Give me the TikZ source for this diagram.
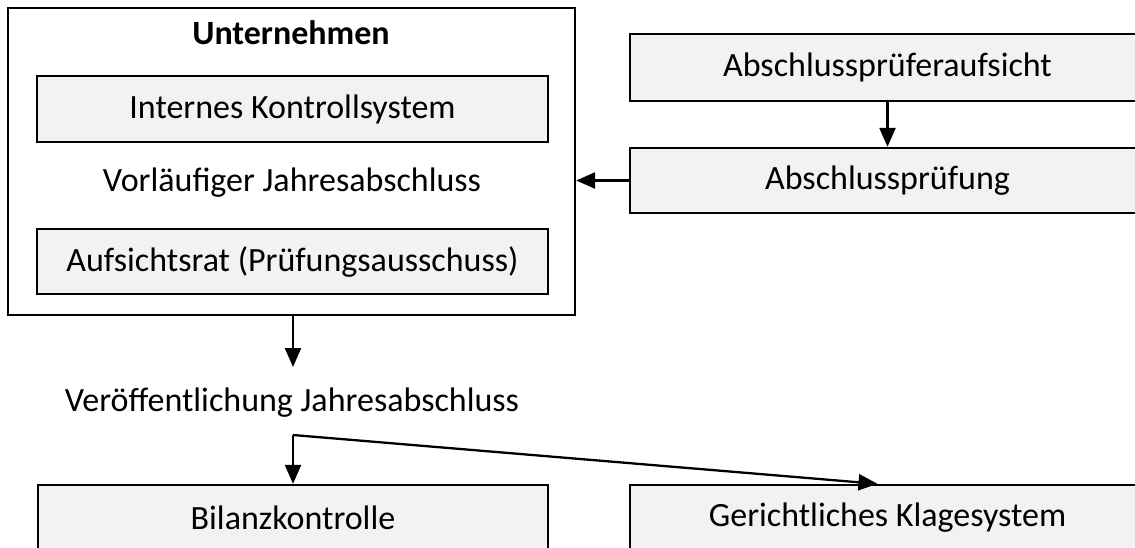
\documentclass[tikz,border=0pt]{standalone}
\usepackage{fontspec}
\setmainfont{Carlito}
\usetikzlibrary{arrows.meta}
\definecolor{boxgray}{HTML}{F2F2F2}

\begin{document}
\begin{tikzpicture}[
  x=1pt, y=-1pt,
  font=\fontsize{34}{40}\selectfont,
  frame/.style={draw,line width=2.3pt,minimum width=567pt,minimum height=307pt,inner sep=0pt},
  block/.style={draw,line width=2.3pt,fill=boxgray,minimum width=511pt,minimum height=66pt,inner sep=0pt},
  wideblock/.style={block,minimum width=515pt},
  plain/.style={inner sep=0pt},
  to/.style={-{Triangle[length=19pt,width=16pt]},line width=2.3pt}]

  \useasboundingbox (0,0) rectangle (1135,547);

  % Left column: the company with its inner blocks
  \node[frame] (Firm) at (291.5,161.5) {};
  \node[plain] (FirmTitle) at (291,33) {\textbf{Unternehmen}};
  \node[block] (IKS) at (292.5,109) {Internes Kontrollsystem};
  \node[plain] (Draft) at (292,183) {Vorläufiger Jahresabschluss};
  \node[block,minimum height=65pt] (Board) at (292.5,261.5) {Aufsichtsrat (Prüfungsausschuss)};

  % Right column: audit
  \node[wideblock,minimum height=67pt] (Oversight) at (887.5,67.5) {Abschlussprüferaufsicht};
  \node[wideblock,minimum height=65pt] (Audit) at (887.5,180.5) {Abschlussprüfung};

  % Publication and enforcement
  \node[plain] (Publish) at (292,403) {Veröffentlichung Jahresabschluss};
  \node[block,minimum width=510pt] (Enforce) at (293,518) {Bilanzkontrolle};
  \node[wideblock] (Court) at (887.5,518) {Gerichtliches Klagesystem};

  \coordinate (PublishIn) at (293,367);
  \coordinate (Fork) at (293,435);

  % Arrows
  \draw[to] (Oversight) -- (Audit);
  \draw[to] (Audit) -- (Firm.east |- Audit.west);
  \draw[to] (Firm.south -| PublishIn) -- (PublishIn);
  \draw[to] (Fork) -- (Enforce.north -| Fork);
  \draw[to] (Fork) -- ([xshift=-10pt]Court.north);
\end{tikzpicture}
\end{document}
